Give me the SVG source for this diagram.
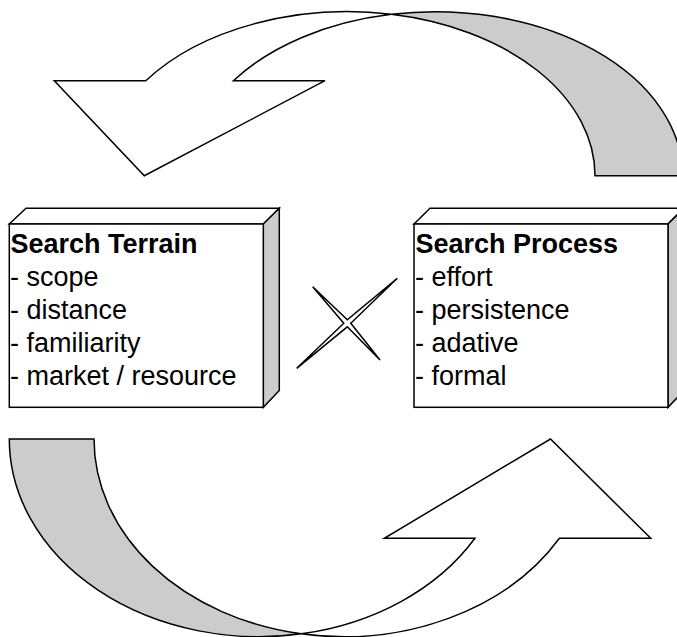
<svg xmlns="http://www.w3.org/2000/svg" width="677" height="637" viewBox="0 0 677 637">
  <style>
    .ln { stroke: #000; stroke-width: 1.5; stroke-linejoin: miter; }
    .front { fill: #ffffff; }
    .back { fill: #cccccc; }
    .t { font-family: "Liberation Sans", Arial, sans-serif; font-size: 27px; fill: #000; }
    .b { font-weight: bold; }
  </style>
  <rect width="677" height="637" fill="#ffffff"/>
  <g id="connectors">
    <g id="arrow-top">
      <path class="ln back" d="M 682.6 175.7 A 247.5 164 0 0 0 391.3 14.3 A 247.5 164 0 0 1 595 175.7 Z"/>
      <path class="ln front" d="M 391.3 14.3 A 247.5 164 0 0 0 145.8 80.7 L 54.3 80.7 L 144.3 175.7 L 325 80.7 L 233.4 80.7 A 247.5 164 0 0 1 391.3 14.3 Z"/>
    </g>
    <g id="arrow-bottom">
      <path class="ln back" d="M 9.3 439 A 249.7 197.7 0 0 0 301.25 633.85 A 249.7 197.7 0 0 1 94 439 Z"/>
      <path class="ln front" d="M 301.25 633.85 A 249.7 197.7 0 0 0 559.4 538.3 L 650.7 538.3 L 550.5 439 L 384.3 538.3 L 474.9 538.3 A 249.7 197.7 0 0 1 301.25 633.85 Z"/>
    </g>
  </g>
  <g id="cross">
    <path class="ln front" stroke-width="1.3" d="M 312.7 286.7 L 347.3 319.8 L 397.3 278.3 L 350.8 323.3 L 380 360 L 347.3 326.8 L 296.7 368.3 L 343.8 323.3 Z"/>
  </g>
  <g id="search-terrain">
    <polygon class="ln front" points="9.3,224 26,208.3 279.3,208.3 263.3,224"/>
    <polygon class="ln back" points="263.3,224 279.3,208.3 279.3,390.5 263.3,407.3"/>
    <rect class="ln front" x="9.3" y="224" width="254" height="183.3"/>
    <text class="t b" x="10.5" y="253">Search Terrain</text>
    <text class="t" x="10" y="286">- scope</text>
    <text class="t" x="10" y="319">- distance</text>
    <text class="t" x="10" y="352">- familiarity</text>
    <text class="t" x="10" y="385">- market / resource</text>
  </g>
  <g id="search-process">
    <polygon class="ln front" points="414,224 430,208.3 684,208.3 668,224"/>
    <polygon class="ln back" points="668,224 684,208.3 684,390.5 668,407.3"/>
    <rect class="ln front" x="414" y="224" width="254" height="183.3"/>
    <text class="t b" x="415.5" y="253">Search Process</text>
    <text class="t" x="415" y="286">- effort</text>
    <text class="t" x="415" y="319">- persistence</text>
    <text class="t" x="415" y="352">- adative</text>
    <text class="t" x="415" y="385">- formal</text>
  </g>
</svg>
